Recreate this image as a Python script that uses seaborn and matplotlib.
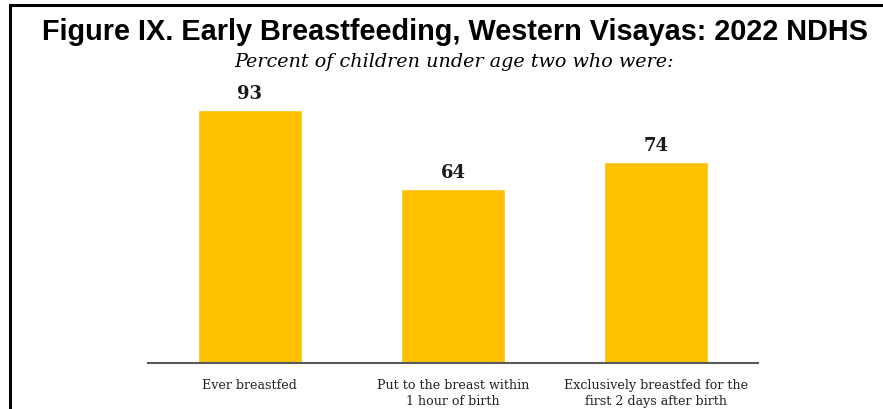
import matplotlib
matplotlib.use("Agg")
import matplotlib.pyplot as plt
import seaborn as sns
import pandas as pd
from matplotlib.patches import Rectangle
from matplotlib.font_manager import FontProperties

categories = [
    "Ever breastfed",
    "Put to the breast within\n1 hour of birth",
    "Exclusively breastfed for the\nfirst 2 days after birth",
]
values = [93, 64, 74]

title = "Figure IX. Early Breastfeeding, Western Visayas: 2022 NDHS"
subtitle = "Percent of children under age two who were:"

sns.set_theme(style="white")
plt.rcParams["font.family"] = ["DejaVu Sans"]

df = pd.DataFrame({"category": categories, "value": values})

fig = plt.figure(figsize=(8.83, 4.10), dpi=100)
W, H = 883, 410
ax = fig.add_axes([148 / W, 1 - 364 / H, 610 / W, 272 / H])

sns.barplot(data=df, x="category", y="value", color="#FFC000",
            saturation=1, width=0.51, ax=ax)
ax.set_xlim(-0.5, 2.5)
ax.set_ylim(0, 100)

for i, v in enumerate(values):
    ax.text(i, v + 3, f"{v}", ha="center", va="bottom",
            fontsize=13, fontweight="bold", family="DejaVu Serif", color="#1a1a1a")

for s in ["top", "right", "left"]:
    ax.spines[s].set_visible(False)
ax.spines["bottom"].set_color("#595959")
ax.spines["bottom"].set_linewidth(1.5)
ax.set_yticks([])
ax.set_xlabel("")
ax.set_ylabel("")
ax.tick_params(axis="x", length=0, pad=11)
for lbl in ax.get_xticklabels():
    lbl.set_family("DejaVu Serif")
    lbl.set_fontsize(9.1)
    lbl.set_color("#222222")
    lbl.set_linespacing(1.3)

title_font = FontProperties(family="Liberation Sans", weight="bold", size=20.8)
fig.text(455 / W, 1 - 32 / H, title, ha="center", va="center",
         fontproperties=title_font, color="black")
fig.text(454 / W, 1 - 62 / H, subtitle, ha="center", va="center",
         fontsize=13.8, style="italic", family="DejaVu Serif", color="black")

# frame around the figure
fig.patches.append(Rectangle((10 / W, -0.1), 1.2, 1 - 6 / H + 0.1,
                             transform=fig.transFigure, fill=False,
                             edgecolor="black", linewidth=2.2, clip_on=False))

fig.savefig("out.png", dpi=100)
